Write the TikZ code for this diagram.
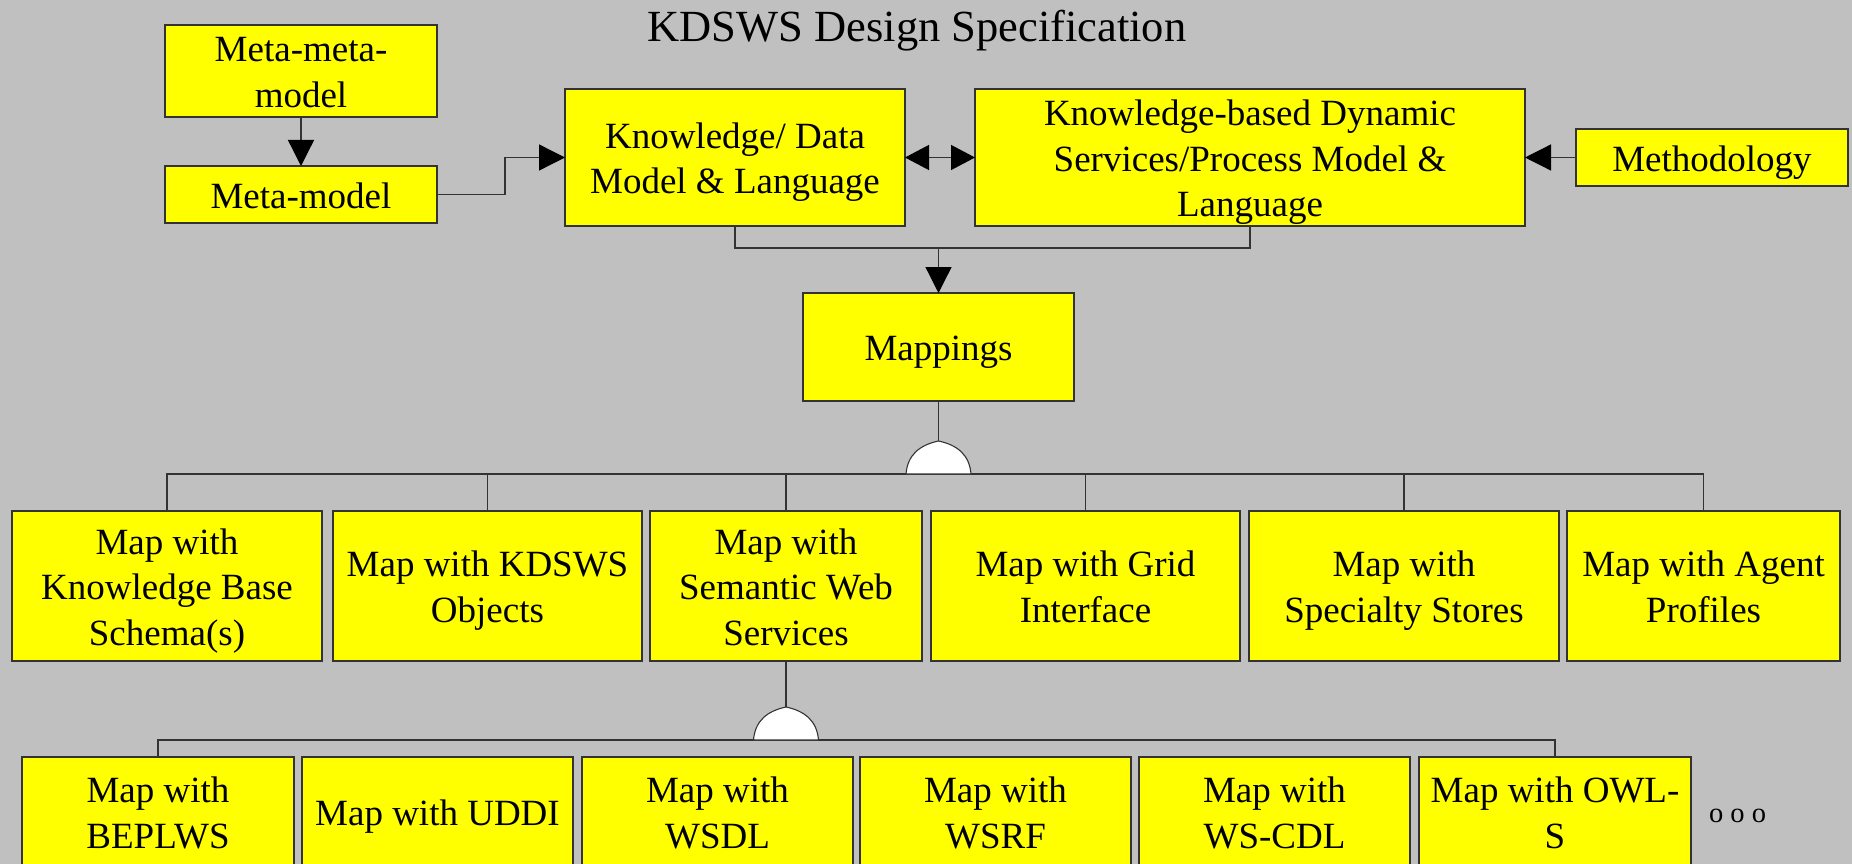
\documentclass[tikz,border=0pt]{standalone}
\usepackage{fontspec}
\setmainfont{Liberation Serif}
\usetikzlibrary{arrows.meta}
\definecolor{bggray}{HTML}{C0C0C0}
\definecolor{boxyellow}{HTML}{FFFF00}
\definecolor{edgegray}{HTML}{333333}

% centred stack of lines with even spacing, set a little low in its box
\newcommand\boxlines[1]{\raisebox{0pt}[\dimexpr\height+4.5pt\relax][\dimexpr\depth-4.5pt\relax]{%
  \begin{tabular}{@{}c@{}}#1\end{tabular}}}

\begin{document}
\begin{tikzpicture}[x=1pt,y=-1pt,
  box/.style={draw=edgegray, line width=1.4pt, fill=boxyellow, inner sep=0pt,
    outer sep=0pt, font=\fontsize{37}{45.5}\selectfont},
  link/.style={draw=edgegray, line width=1.3pt},
  head/.style={-{Triangle[length=26pt,width=26pt,color=black]}},
  twohead/.style={{Triangle[length=24pt,width=25pt,color=black]}-{Triangle[length=24pt,width=25pt,color=black]}},
  gatestyle/.style={fill=white, draw=edgegray, line width=1.1pt},
  gate/.pic={\draw[gatestyle] (-32.5,0) .. controls (-31,-19) and (-19,-29) .. (0,-33)
      .. controls (19,-29) and (31,-19) .. (32.5,0) -- cycle;}]

% page and background
\useasboundingbox (0,0) rectangle (1852,864);
\fill[bggray] (0,0) rectangle (1852,864);
\clip (0,0) rectangle (1852,864);

% title
\node[anchor=base, font=\fontsize{44.5}{50}\selectfont] (title) at (917,42) {KDSWS Design Specification};

% top row
\node[box, minimum width=272pt, minimum height=92pt] (mmm) at (301,71) {\boxlines{Meta-meta-\\model}};
\node[box, minimum width=272pt, minimum height=57pt] (mm) at (301,194.5) {\boxlines{Meta-model}};
\node[box, minimum width=340pt, minimum height=137pt] (kd) at (735,157.5) {\boxlines{Knowledge/ Data\\Model \& Language}};
\node[box, minimum width=550pt, minimum height=137pt] (kbd) at (1250,157.5) {\boxlines{Knowledge-based Dynamic\\Services/Process Model \&\\Language}};
\node[box, minimum width=272pt, minimum height=57pt] (meth) at (1712,157.5) {\boxlines{Methodology}};
\node[box, minimum width=271pt, minimum height=108pt] (map) at (938.5,347) {\boxlines{Mappings}};

% second row
\node[box, minimum width=310pt, minimum height=150pt] (a1) at (167,586) {\boxlines{Map with\\Knowledge Base\\Schema(s)}};
\node[box, minimum width=309pt, minimum height=150pt] (a2) at (487.5,586) {\boxlines{Map with KDSWS\\Objects}};
\node[box, minimum width=272pt, minimum height=150pt] (a3) at (786,586) {\boxlines{Map with\\Semantic Web\\Services}};
\node[box, minimum width=309pt, minimum height=150pt] (a4) at (1085.5,586) {\boxlines{Map with Grid\\Interface}};
\node[box, minimum width=310pt, minimum height=150pt] (a5) at (1404,586) {\boxlines{Map with\\Specialty Stores}};
\node[box, minimum width=273pt, minimum height=150pt] (a6) at (1703.5,586) {\boxlines{Map with Agent\\Profiles}};

% third row (runs off the bottom edge)
\node[box, minimum width=272pt, minimum height=110pt] (b1) at (158,812) {\boxlines{Map with\\BEPLWS}};
\node[box, minimum width=271pt, minimum height=110pt] (b2) at (437.5,812) {\boxlines{Map with UDDI}};
\node[box, minimum width=271pt, minimum height=110pt] (b3) at (717.5,812) {\boxlines{Map with\\WSDL}};
\node[box, minimum width=271pt, minimum height=110pt] (b4) at (995.5,812) {\boxlines{Map with\\WSRF}};
\node[box, minimum width=271pt, minimum height=110pt] (b5) at (1274.5,812) {\boxlines{Map with\\WS-CDL}};
\node[box, minimum width=272pt, minimum height=110pt] (b6) at (1555,812) {\boxlines{Map with OWL-\\S}};
\node[anchor=base, font=\fontsize{28.5}{30}\selectfont] (more) at (1737.5,822) {o o o};

% junction points
\coordinate (jm) at (505,194.5);
\coordinate (bus1) at (0,248);
\coordinate (bus2) at (0,474);
\coordinate (bus3) at (0,740);
\coordinate (g1) at (938.5,474);
\coordinate (g1top) at (938.5,441);
\coordinate (g2) at (786,740);
\coordinate (g2top) at (786,707);

% arrows in the top part
\draw[link, head] (mmm.south) -- (mm.north);
\draw[link, head] (mm.east) -- (jm) |- (kd.west);
\draw[link, twohead] (kd.east) -- (kbd.west);
\draw[link, head] (meth.west) -- (kbd.east);
\draw[link] (kd.south) -- (kd.south |- bus1) -- (kbd.south |- bus1) -- (kbd.south);
\draw[link, head] (map.north |- bus1) -- (map.north);

% first AND split
\draw[link] (a1.north) -- (a1.north |- bus2) -- (a6.north |- bus2) -- (a6.north);
\foreach \n in {a2,a3,a4,a5} \draw[link] (\n.north) -- (\n.north |- bus2);
\draw[link] (map.south) -- (g1top);
\pic at (g1) {gate};

% second AND split
\draw[link] (b1.north) -- (b1.north |- bus3) -- (b6.north |- bus3) -- (b6.north);
\draw[link] (a3.south) -- (g2top);
\pic at (g2) {gate};

\end{tikzpicture}
\end{document}
